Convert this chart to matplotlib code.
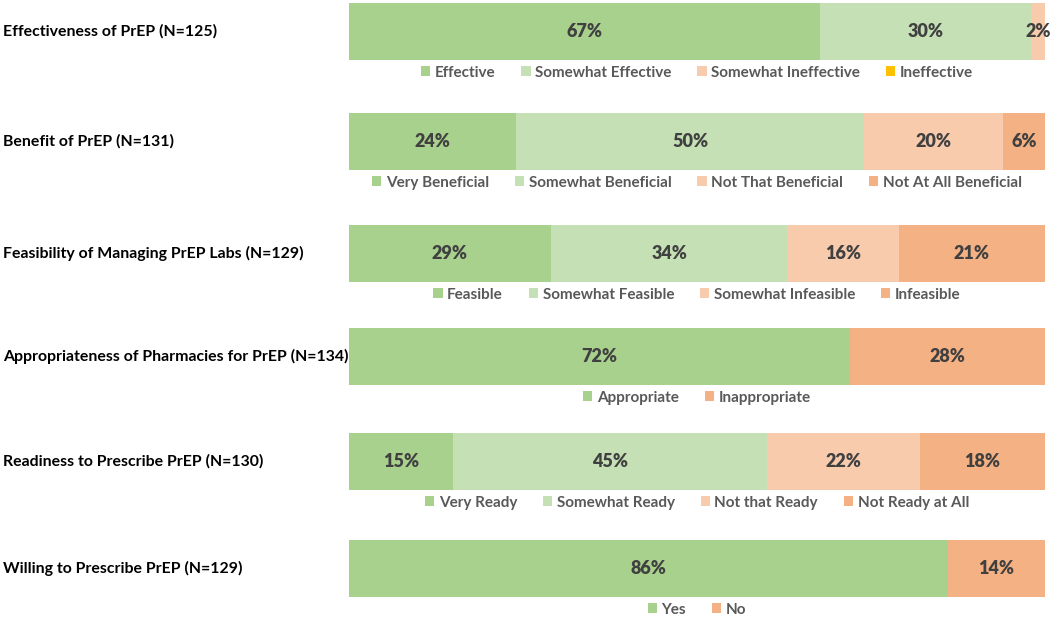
import matplotlib.pyplot as plt
import numpy as np

plt.rcParams["font.family"] = ["Lato", "DejaVu Sans"]

questions = [
    "Effectiveness of PrEP (N=125)",
    "Benefit of PrEP (N=131)",
    "Feasibility of Managing PrEP Labs (N=129)",
    "Appropriateness of Pharmacies for PrEP (N=134)",
    "Readiness to Prescribe PrEP (N=130)",
    "Willing to Prescribe PrEP (N=129)",
]
categories = [
    ["Effective", "Somewhat Effective", "Somewhat Ineffective", "Ineffective"],
    ["Very Beneficial", "Somewhat Beneficial", "Not That Beneficial", "Not At All Beneficial"],
    ["Feasible", "Somewhat Feasible", "Somewhat Infeasible", "Infeasible"],
    ["Appropriate", "Inappropriate"],
    ["Very Ready", "Somewhat Ready", "Not that Ready", "Not Ready at All"],
    ["Yes", "No"],
]
values = [
    [67, 30, 2, 0],
    [24, 50, 20, 6],
    [29, 34, 16, 21],
    [72, 28],
    [15, 45, 22, 18],
    [86, 14],
]

GREEN = "#A9D18E"
LIGHT_GREEN = "#C5E0B4"
PEACH = "#F8CBAD"
ORANGE = "#F4B183"
YELLOW = "#FFC000"
palettes = [
    [GREEN, LIGHT_GREEN, PEACH, YELLOW],
    [GREEN, LIGHT_GREEN, PEACH, ORANGE],
    [GREEN, LIGHT_GREEN, PEACH, ORANGE],
    [GREEN, ORANGE],
    [GREEN, LIGHT_GREEN, PEACH, ORANGE],
    [GREEN, ORANGE],
]

W, H = 1050, 623
fig = plt.figure(figsize=(W / 100, H / 100), dpi=100)

bar_left, bar_width = 349, 696
bar_tops = [3, 113, 225, 328, 433, 540]
bar_h = 57

for q, cats, vals, cols, top in zip(questions, categories, values, palettes, bar_tops):
    ax = fig.add_axes([bar_left / W, 1 - (top + bar_h) / H, bar_width / W, bar_h / H])
    total = float(sum(vals))
    left = 0.0
    handles = []
    for c, v, col in zip(cats, vals, cols):
        w = v / total * 100
        h = ax.barh(0, w, left=left, height=1.0, color=col, label=c)
        handles.append(h)
        if v > 0:
            ax.text(left + w / 2, 0, f"{v}%", ha="center", va="center",
                    fontsize=13, fontweight="heavy", color="#404040")
        left += w
    ax.set_xlim(0, 100)
    ax.set_ylim(-0.5, 0.5)
    ax.axis("off")
    leg = ax.legend(handles=handles, loc="upper center", bbox_to_anchor=(0.5, -0.1),
                    ncol=len(cats), frameon=False, fontsize=11,
                    handlelength=0.6, handleheight=0.6, handletextpad=0.3,
                    columnspacing=1.7, borderaxespad=0, borderpad=0)
    for t in leg.get_texts():
        t.set_color("#595959")
        t.set_fontweight("bold")
    fig.text(3 / W, 1 - (top + bar_h / 2) / H, q, ha="left", va="center",
             fontsize=11.4, fontweight="bold", color="black")

fig.savefig("out.png", dpi=100)
